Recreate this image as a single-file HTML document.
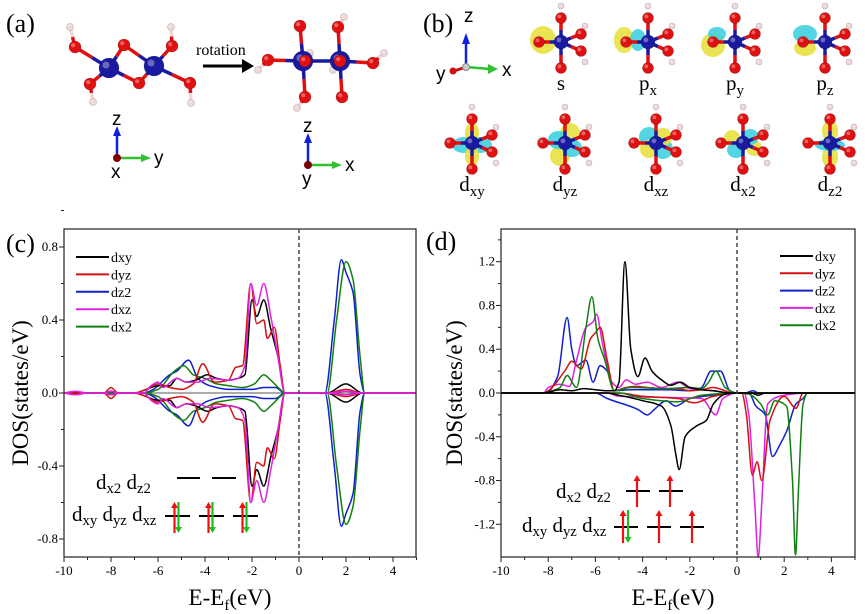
<!DOCTYPE html>
<html><head><meta charset="utf-8"><style>
html,body{margin:0;padding:0;background:#fff;}
svg{display:block;font-family:"Liberation Serif",serif;}
.sans{font-family:"Liberation Sans",sans-serif;}
</style></head><body>
<svg id="fig" width="865" height="614" viewBox="0 0 865 614">
<g id="top"></g>
<g id="pc"></g>
<g id="pd"></g>
</svg>
<script>
// ---------- DATA: panel (c) ----------
const seriesNames = ["dxy","dyz","dz2","dxz","dx2"];
const seriesColors = ["#000000","#d41010","#1020d0","#e020e0","#108010"];
const cTicksX = [-10,-8,-6,-4,-2,0,2,4];
const cTicksY = [-0.8,-0.4,0.0,0.4,0.8];
const dTicksY = [-1.2,-0.8,-0.4,0.0,0.4,0.8,1.2];
const dTicksX = [-10,-8,-6,-4,-2,0,2,4];
const cDxyE = [-10,-8.3,-8,-7.7,-7,-6.5,-6,-5.5,-5.2,-4.8,-4.4,-3.9,-3.5,-3,-2.6,-2.3,-2.0,-1.8,-1.5,-1.2,-0.9,-0.6,1.2,2,2.7,5];
const cDxyV = [0,0,0.01,0,0,0.02,0.04,0.04,0.08,0.06,0.07,0.1,0.08,0.07,0.08,0.1,0.51,0.42,0.51,0.35,0.2,0,0,0.05,0,0];
const cDyzE = [-10,-8.3,-8,-7.7,-7,-6.5,-6,-5.5,-5,-4.5,-4.1,-3.6,-3,-2.7,-2.4,-2.05,-1.8,-1.5,-1.35,-1.05,-0.8,-0.6,1.2,2,2.7,5];
const cDyzV = [0,0,0.03,0,0,0.02,0.05,0.03,0.02,0.05,0.16,0.06,0.07,0.14,0.15,0.6,0.38,0.4,0.3,0.36,0.15,0,0,0.02,0,0];
const cDz2E = [-10,-6.6,-6.2,-5.5,-5.2,-4.7,-4.3,-3.8,-3,-2,-1.5,-1.0,-0.6,1.1,1.5,1.8,2.0,2.3,2.6,2.8,5];
const cDz2V = [0,0,0.02,0.1,0.12,0.18,0.08,0.04,0.02,0.02,0.03,0.03,0,0,0.4,0.73,0.66,0.55,0.1,0,0];
const cDxzE = [-10,-9.5,-9,-8.3,-8,-7.7,-6.6,-6.3,-6,-5.8,-5.2,-4.8,-4.3,-3.8,-3,-2.6,-2.3,-2.05,-1.8,-1.5,-1.2,-0.9,-0.6,1.2,2,2.7,5];
const cDxzV = [0,0.01,0,0,0.01,0,0,0.04,0.06,0.03,0.08,0.06,0.06,0.08,0.07,0.08,0.15,0.6,0.48,0.6,0.42,0.2,0,0,0.01,0,0];
const cDx2E = [-10,-6.6,-6,-5.3,-4.9,-4.5,-4,-3.5,-3,-2.4,-1.9,-1.5,-1.2,-0.8,-0.6,1.2,1.6,2.0,2.3,2.6,2.8,5];
const cDx2V = [0,0,0.02,0.12,0.15,0.1,0.08,0.05,0.04,0.03,0.05,0.1,0.07,0.02,0,0,0.4,0.72,0.62,0.2,0,0];
const cDownScale = [1,1,1,1,1];

// ---------- DATA: panel (d) ----------
const dDxyUpE = [-10,-8.2,-7.5,-7,-6.5,-6,-5.5,-5.2,-5.0,-4.75,-4.5,-4.2,-3.9,-3.6,-3.2,-2.8,-2.4,-2.0,-1.5,-1,-0.3,5];
const dDxyUpV = [0,0,0.03,0.02,0.04,0.03,0.02,0.02,0.1,1.2,0.4,0.15,0.32,0.2,0.12,0.07,0.1,0.05,0.03,0.02,0,0];
const dDxyDnE = [-10,-5.5,-5,-4,-3.2,-2.8,-2.6,-2.45,-2.2,-1.7,-1.3,-1,-0.5,0,0.6,0.9,1.2,5];
const dDxyDnV = [0,0,-0.02,-0.07,-0.12,-0.3,-0.55,-0.7,-0.4,-0.3,-0.25,-0.1,-0.01,0,0,-0.02,0,0];
const dDyzUpE = [-10,-8.2,-8,-7.3,-7,-6.6,-6.2,-6,-5.8,-5.5,-5.2,-4.7,-4.3,-3.8,-3,-2.5,-2,-1.5,-1,-0.5,-0.2,5];
const dDyzUpV = [0,0,0.02,0.2,0.29,0.22,0.5,0.55,0.6,0.3,0.02,0.05,0.06,0.05,0.04,0.04,0.02,0.03,0.05,0.02,0,0];
const dDyzDnE = [-10,-5,-4,-2.5,-1.8,-1,0,0.2,0.4,0.65,0.85,1.05,1.4,2,2.5,2.8,5];
const dDyzDnV = [0,0,-0.03,-0.05,-0.09,-0.03,0,0,-0.2,-0.75,-0.63,-0.8,-0.25,-0.03,-0.14,0,0];
const dDz2UpE = [-10,-8.1,-7.6,-7.2,-7,-6.8,-6.4,-6.1,-5.8,-5.5,-5.2,-4.5,-3,-2,-1.5,-1.1,-0.7,-0.3,0,0.3,0.7,0.9,5];
const dDz2UpV = [0,0,0.15,0.69,0.4,0.25,0.3,0.1,0.25,0.2,0.02,0.03,0.03,0.02,0.05,0.2,0.2,0.02,0,0,0.02,0,0];
const dDz2DnE = [-10,-6,-5.5,-4.2,-3.8,-3.5,-3,-2.6,-2,-1.0,0,0.5,0.8,1.2,1.5,1.8,2.1,2.5,2.8,3,5];
const dDz2DnV = [0,0,-0.05,-0.15,-0.2,-0.15,-0.07,-0.12,-0.05,-0.02,0,0,-0.12,-0.2,-0.58,-0.48,-0.35,-0.1,-0.05,0,0];
const dDxzUpE = [-10,-8.2,-8,-7.5,-7.1,-6.8,-6.4,-6.1,-5.95,-5.7,-5.3,-5,-4.7,-4.3,-3.8,-3.2,-2.5,-2,-1,-0.3,5];
const dDxzUpV = [0,0,0.05,0.08,0.06,0.3,0.6,0.65,0.72,0.45,0.1,0.05,0.12,0.08,0.1,0.05,0.1,0.04,0.02,0,0];
const dDxzDnE = [-10,-5.5,-5,-3,-1.5,-0.9,-0.6,0,0.3,0.5,0.75,0.9,1.05,1.3,2,3,5];
const dDxzDnV = [0,0,-0.03,-0.04,-0.05,-0.2,-0.05,0,0,-0.2,-1.0,-1.5,-1.0,-0.1,-0.02,0,0];
const dDx2UpE = [-10,-8.2,-8,-7.5,-7.2,-6.8,-6.4,-6.15,-5.9,-5.6,-5.2,-4.5,-3,-2,-1.5,-1.2,-0.9,-0.5,0,5];
const dDx2UpV = [0,0,0.01,0.05,0.16,0.05,0.6,0.88,0.5,0.3,0.02,0.05,0.04,0.05,0.04,0.1,0.2,0.05,0,0];
const dDx2DnE = [-10,-5,-4,-2.5,-1.5,0,0.5,1,1.3,1.6,2.1,2.35,2.48,2.6,2.8,3,5];
const dDx2DnV = [0,0,-0.05,-0.08,-0.02,0,-0.01,-0.1,-0.2,-0.07,-0.12,-0.8,-1.48,-0.9,-0.1,0,0];

const NS="http://www.w3.org/2000/svg";
function el(tag,attrs,parent,text){const e=document.createElementNS(NS,tag);for(const k in attrs)e.setAttribute(k,attrs[k]);if(text!==undefined)e.textContent=text;parent.appendChild(e);return e;}
// monotone cubic (Fritsch-Carlson) path -- no overshoot
function smooth(pts){
  const n=pts.length, dx=[], s=[], m=[];
  for(let i=0;i<n-1;i++){dx[i]=pts[i+1][0]-pts[i][0];s[i]=(pts[i+1][1]-pts[i][1])/dx[i];}
  m[0]=s[0];m[n-1]=s[n-2];
  for(let i=1;i<n-1;i++){ if(s[i-1]*s[i]<=0) m[i]=0; else { const w1=2*dx[i]+dx[i-1],w2=dx[i]+2*dx[i-1]; m[i]=(w1+w2)/(w1/s[i-1]+w2/s[i]); } }
  let d="M"+pts[0][0].toFixed(1)+","+pts[0][1].toFixed(1);
  for(let i=0;i<n-1;i++){
    const h=dx[i]/3;
    d+="C"+(pts[i][0]+h).toFixed(1)+","+(pts[i][1]+m[i]*h).toFixed(1)+" "+(pts[i+1][0]-h).toFixed(1)+","+(pts[i+1][1]-m[i+1]*h).toFixed(1)+" "+pts[i+1][0].toFixed(1)+","+pts[i+1][1].toFixed(1);
  }
  return d;
}

function drawAxes(g,o){
  const {L,R,T,B,X,Y,xt,yt,yminor}=o;
  el("rect",{x:L,y:T,width:R-L,height:B-T,fill:"none",stroke:"#222","stroke-width":1.2},g);
  xt.forEach(v=>{
    const t=el("line",{x1:X(v),x2:X(v),y1:B,y2:B+5,stroke:"#222"},g);
    
    
    const lb=el("text",{x:X(v),y:B+18,"font-size":13,"text-anchor":"middle"},g,String(v));
    
    
    el("line",{x1:X(v+1),x2:X(v+1),y1:B,y2:B+3,stroke:"#222"},g);
  });
  yt.forEach(v=>{
    el("line",{x1:L-5,x2:L,y1:Y(v),y2:Y(v),stroke:"#222"},g);
    el("line",{x1:L-3,x2:L,y1:Y(v+yminor),y2:Y(v+yminor),stroke:"#222"},g);
    const lb=el("text",{x:L-6,y:Y(v)+4,"font-size":13,"text-anchor":"end"},g,v.toFixed(1));
    
    
  });
  el("line",{x1:X(0),x2:X(0),y1:T,y2:B,stroke:"#444","stroke-dasharray":"4,3","stroke-width":1.5},g);
  const yt2=el("text",{transform:`translate(${o.ytx},${(T+B)/2}) rotate(-90)`,"font-size":23,"text-anchor":"middle"},g,"DOS(states/eV)");
  
  
  const xtt=el("text",{x:o.xtx,y:605,"font-size":23,"text-anchor":"middle"},g);
  
  
  xtt.innerHTML='E-E<tspan font-size="15" dy="5">f</tspan><tspan dy="-5">(eV)</tspan>';
}
function curve(g,E,V,X,Y,color,name,sign){
  const pts=E.map((e,i)=>[X(e),Y(V[i]*sign)]);
  const p=el("path",{d:smooth(pts),fill:"none",stroke:color,"stroke-width":1.5},g);
  
  
}
function legend(g,x,y0,dy){
  seriesNames.forEach((n,i)=>{
    const y=y0+i*dy;
    const l=el("line",{x1:x,x2:x+33,y1:y,y2:y,stroke:seriesColors[i],"stroke-width":2},g);
    
    
    const t=el("text",{x:x+35,y:y+5,"font-size":14},g,n);
    
    
  });
}
function arrow(g,x,y1,y2,color){
  el("line",{x1:x,x2:x,y1:y1,y2:y2+(y2<y1?5:-5),stroke:color,"stroke-width":2.2},g);
  const s=y2<y1?1:-1;
  el("polygon",{points:`${x-3.5},${y2+6*s} ${x+3.5},${y2+6*s} ${x},${y2}`,fill:color},g);
}
function sublabel(g,x,y,parts,fs){
  const t=el("text",{x:x,y:y,"font-size":fs},g);
  let h="";
  parts.forEach(p=>{h+=`<tspan>d</tspan><tspan font-size="${fs*0.7}" dy="4">${p}</tspan><tspan dy="-4"> </tspan>`;});
  t.innerHTML=h;return t;
}

// ---------- panel c ----------
(function(){
  const g=document.getElementById("pc");
  const X=e=>299+23.5*e, Y=v=>393-182.5*v;
  el("line",{x1:64,x2:416,y1:Y(0),y2:Y(0),stroke:"#555","stroke-width":1},g);
  const E=[cDxyE,cDyzE,cDz2E,cDxzE,cDx2E], V=[cDxyV,cDyzV,cDz2V,cDxzV,cDx2V];
  [2,4,0,1,3].forEach(i=>{
    curve(g,E[i],V[i],X,Y,seriesColors[i],"series-up-"+seriesNames[i],1);
    curve(g,E[i],V[i],X,Y,seriesColors[i],"series-down-"+seriesNames[i],-cDownScale[i]);
  });
  drawAxes(g,{L:64,R:416,T:229,B:557,X,Y,xt:cTicksX,yt:cTicksY,yminor:0.2,ytx:28,xtx:230});
  legend(g,76,257,17.4);
  const lab=el("text",{x:6,y:252,"font-size":26},g,"(c)");
  
  const ins=el("g",{},g);
  
  sublabel(ins,96,489,["x2","z2"],21);
  sublabel(ins,72,521,["xy","yz","xz"],21);
  [[177,200],[212,236]].forEach(a=>el("line",{x1:a[0],x2:a[1],y1:478,y2:478,stroke:"#000","stroke-width":2},ins));
  [[165,190],[199,224],[233,258]].forEach(a=>{
    el("line",{x1:a[0],x2:a[1],y1:516,y2:516,stroke:"#000","stroke-width":2},ins);
    const m=(a[0]+a[1])/2;
    arrow(ins,m-3,533,502,"#ee1010");arrow(ins,m+1,502,533,"#22bb22");
  });
})();

// ---------- panel d ----------
(function(){
  const g=document.getElementById("pd");
  const X=e=>737+23.6*e, Y=v=>393-109.4*v;
  const UE=[dDxyUpE,dDyzUpE,dDz2UpE,dDxzUpE,dDx2UpE],UV=[dDxyUpV,dDyzUpV,dDz2UpV,dDxzUpV,dDx2UpV];
  const DE=[dDxyDnE,dDyzDnE,dDz2DnE,dDxzDnE,dDx2DnE],DV=[dDxyDnV,dDyzDnV,dDz2DnV,dDxzDnV,dDx2DnV];
  [2,3,1,4,0].forEach(i=>{
    curve(g,UE[i],UV[i],X,Y,seriesColors[i],"series-up-"+seriesNames[i],1);
    curve(g,DE[i],DV[i],X,Y,seriesColors[i],"series-down-"+seriesNames[i],1);
  });
  drawAxes(g,{L:501,R:855,T:229,B:557,X,Y,xt:dTicksX,yt:dTicksY,yminor:0.2,ytx:462,xtx:673});
  legend(g,780,256,17.3);
  const lab=el("text",{x:426,y:250,"font-size":26},g,"(d)");
  
  const ins=el("g",{},g);
  
  sublabel(ins,556,498,["x2","z2"],21);
  sublabel(ins,522,532,["xy","yz","xz"],21);
  [[626,650],[659,683]].forEach(a=>{el("line",{x1:a[0],x2:a[1],y1:491,y2:491,stroke:"#000","stroke-width":2},ins);arrow(ins,(a[0]+a[1])/2-1,507,475,"#ee1010");});
  [[614,638],[647,671],[680,704]].forEach((a,i)=>{
    el("line",{x1:a[0],x2:a[1],y1:527,y2:527,stroke:"#000","stroke-width":2},ins);
    const m=(a[0]+a[1])/2;
    arrow(ins,i==0?m-3:m,543,510,"#ee1010");
    if(i==0)arrow(ins,m+2,510,543,"#22bb22");
  });
})();

// ---------- top structure panels ----------
(function(){
  const g=document.getElementById("top");
  const R="#e01010",B="#1a1aa0",H="#f0d8d8";
  function atom(x,y,r,c){el("circle",{cx:x,cy:y,r:r,fill:c,stroke:"rgba(0,0,0,0.25)","stroke-width":0.6},g);el("circle",{cx:x-r*0.3,cy:y-r*0.3,r:r*0.35,fill:"rgba(255,255,255,0.35)"},g);}
  function bond(a,b,c1,c2){const mx=(a[0]+b[0])/2,my=(a[1]+b[1])/2;el("line",{x1:a[0],y1:a[1],x2:mx,y2:my,stroke:c1,"stroke-width":3.5},g);el("line",{x1:mx,y1:my,x2:b[0],y2:b[1],stroke:c2,"stroke-width":3.5},g);}
  function axes(ox,oy,l1,l2,l3){
    el("line",{x1:ox,y1:oy,x2:ox,y2:oy-24,stroke:"#1020e0","stroke-width":2.5},g);
    el("polygon",{points:`${ox-4},${oy-22} ${ox+4},${oy-22} ${ox},${oy-32}`,fill:"#1020e0"},g);
    el("line",{x1:ox,y1:oy,x2:ox+26,y2:oy,stroke:"#30c030","stroke-width":2.5},g);
    el("polygon",{points:`${ox+24},${oy-4} ${ox+24},${oy+4} ${ox+34},${oy}`,fill:"#30c030"},g);
    el("circle",{cx:ox,cy:oy,r:4,fill:"#800000"},g);
    el("text",{x:ox-5,y:oy-33,"font-size":19,class:"sans"},g,l1);
    el("text",{x:ox+37,y:oy+6,"font-size":19,class:"sans"},g,l2);
    el("text",{x:ox-6,y:oy+20,"font-size":19,class:"sans"},g,l3);
  }
  const la=el("text",{x:6,y:32,"font-size":26},g,"(a)");
  
  const b1=[109,68],b2=[154,66];
  [[75,47],[124,45],[90,84],[139,83]].forEach(o=>bond(b1,o,B,R));
  [[124,45],[139,83],[172,46],[190,83]].forEach(o=>bond(b2,o,B,R));
  [[[75,47],[70,27]],[[172,46],[171,27]],[[90,84],[93,102]],[[190,83],[191,103]]].forEach(p=>bond(p[0],p[1],R,H));
  [[70,27],[171,27],[93,102],[191,103]].forEach(p=>atom(p[0],p[1],3.5,H));
  [[75,47],[124,45],[90,84],[139,83],[172,46],[190,83]].forEach(p=>atom(p[0],p[1],6,R));
  atom(109,68,10,B);atom(154,66,10,B);
  el("text",{x:196,y:55,"font-size":16},g,"rotation");
  el("line",{x1:203,y1:66,x2:244,y2:66,stroke:"#000","stroke-width":3},g);
  el("polygon",{points:"242,59 242,73 254,66",fill:"#000"},g);
  const c1=[303,61],c2=[340,61];
  bond(c1,c2,B,B);
  [[300,26],[268,60],[305,97]].forEach(o=>bond(c1,o,B,R));
  [[338,27],[373,63],[342,97]].forEach(o=>bond(c2,o,B,R));
  [[[338,27],[344,17]],[[373,63],[384,53]],[[268,60],[258,70]],[[305,97],[297,108]]].forEach(p=>bond(p[0],p[1],R,H));
  [[344,17],[384,53],[258,70],[297,108],[310,53],[333,70]].forEach(p=>atom(p[0],p[1],3.5,H));
  atom(303,61,10,B);atom(340,61,10,B);
  [[300,26],[338,27],[268,60],[373,63],[305,97],[342,97],[305,61],[340,61]].forEach(p=>atom(p[0],p[1],6,R));
  axes(117,158,"z","y","x");
  axes(308,165,"z","x","y");
  const lb=el("text",{x:423,y:32,"font-size":26},g,"(b)");
  
  el("line",{x1:466,y1:67,x2:466,y2:42,stroke:"#1020e0","stroke-width":2.5},g);
  el("polygon",{points:"462,44 470,44 466,33",fill:"#1020e0"},g);
  el("line",{x1:466,y1:67,x2:490,y2:69,stroke:"#30c030","stroke-width":2.5},g);
  el("polygon",{points:"488,64 488,74 498,69",fill:"#30c030"},g);
  el("line",{x1:466,y1:67,x2:454,y2:71,stroke:"#d01010","stroke-width":3},g);
  el("circle",{cx:453,cy:71,r:3.5,fill:"#d01010"},g);
  el("circle",{cx:466,cy:67,r:3.5,fill:"#ccc",stroke:"#888"},g);
  el("text",{x:464,y:22,"font-size":19,class:"sans"},g,"z");
  el("text",{x:502,y:76,"font-size":19,class:"sans"},g,"x");
  el("text",{x:436,y:80,"font-size":19,class:"sans"},g,"y");
  const Y="#e8e040",C="#40d0e0";
  function orb(cx,cy,lobes,label,sb){
    lobes.forEach(l=>el("ellipse",{cx:cx+l[0],cy:cy+l[1],rx:l[2],ry:l[3],fill:l[4],opacity:0.9},g));
    const os=[[0,-24],[0,26],[-22,0],[20,-8],[20,9]];
    os.forEach(o=>bond([cx,cy],[cx+o[0],cy+o[1]],B,R));
    [[0,-36],[24,-16],[24,20]].forEach(h=>atom(cx+h[0],cy+h[1],3,H));
    os.forEach(o=>atom(cx+o[0],cy+o[1],5.5,R));
    atom(cx,cy,7,B);
    const t=el("text",{x:cx,y:cy+48,"font-size":21,"text-anchor":"middle"},g);
    t.innerHTML=label+(sb?`<tspan font-size="15" dy="5">${sb}</tspan>`:"");
    
    
  }
  orb(561,42,[[-18,-2,13,14,Y]],"s","");
  orb(648,42,[[-24,-2,10,13,Y],[-10,-2,8,11,C]],"p","x");
  orb(735,42,[[-22,3,12,12,Y],[-18,-8,9,7,C]],"p","y");
  orb(825,42,[[-20,-8,12,9,C],[-20,6,11,8,Y]],"p","z");
  orb(472,143,[[-8,2,12,8,C],[8,2,12,8,C],[0,-10,7,10,Y],[0,13,7,10,Y]],"d","xy");
  orb(565,143,[[5,-10,10,10,Y],[-5,13,10,10,Y],[-7,-3,10,9,C],[7,5,10,9,C]],"d","yz");
  orb(656,143,[[-7,-6,10,10,C],[7,6,10,10,C],[7,-6,9,9,Y],[-7,6,9,9,Y]],"d","xz");
  orb(743,143,[[-11,-5,8,8,Y],[11,5,8,8,Y],[-7,7,9,8,C],[7,-6,9,8,C]],"d","x2");
  orb(830,143,[[0,-12,8,11,Y],[0,14,8,11,Y],[0,2,15,6,C]],"d","z2");
})();
</script>
</body></html>
